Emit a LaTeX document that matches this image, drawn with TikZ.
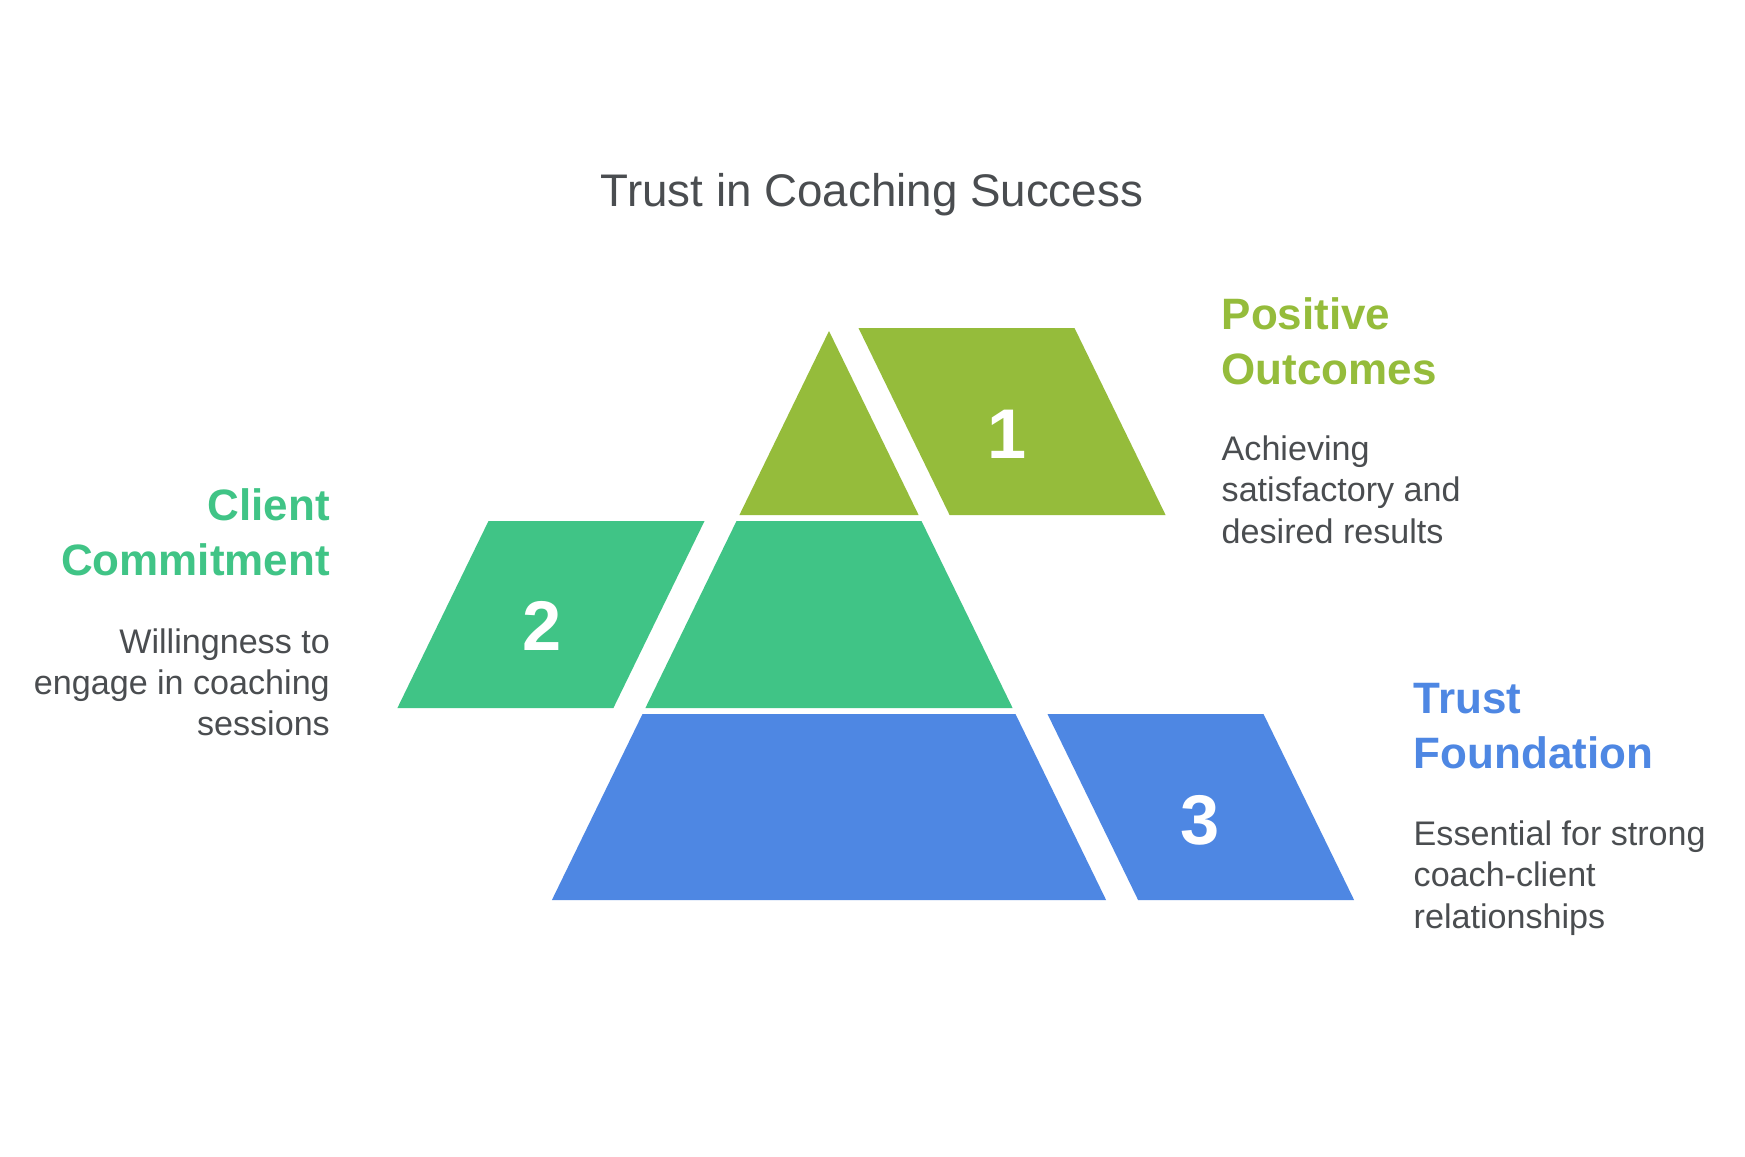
\documentclass[tikz,border=0pt]{standalone}
\usepackage{fontspec}
\setmainfont{Liberation Sans}
\usetikzlibrary{positioning}

\definecolor{limegreen}{HTML}{95BC3B}
\definecolor{mintgreen}{HTML}{40C486}
\definecolor{coolblue}{HTML}{4E87E3}
\definecolor{inkgray}{HTML}{4A4D50}

\begin{document}
\begin{tikzpicture}[
    x=0.01cm, y=-0.01cm,
    tier/.style={fill=#1, draw=none},
    numlabel/.style={text=white, font=\fontsize{20}{24}\selectfont\bfseries, inner sep=0pt},
    heading/.style={text=#1, font=\fontsize{12.5}{15.5}\selectfont\bfseries, inner sep=0pt},
    blurb/.style={text=inkgray, font=\fontsize{9.7}{11.7}\selectfont, inner sep=0pt}
]
    \useasboundingbox[fill=white] (0,0) rectangle (1745,1156);

    \node[text=inkgray, font=\fontsize{13}{16}\selectfont, anchor=base] (title) at (872,206) {Trust in Coaching Success};

    % pyramid tiers
    \fill[tier=limegreen] (829,331) -- (918.6,515) -- (739.4,515) -- cycle;
    \fill[tier=mintgreen] (736.5,521) -- (921.5,521) -- (1012.6,708) -- (645.4,708) -- cycle;
    \fill[tier=coolblue] (642.5,714) -- (1015.5,714) -- (1106.1,900) -- (551.9,900) -- cycle;

    % side tabs
    \fill[tier=limegreen] (858.5,328) -- (1074.5,328) -- (1165.6,515) -- (949.6,515) -- cycle;
    \fill[tier=mintgreen] (488.5,521) -- (704.5,521) -- (613.4,708) -- (397.4,708) -- cycle;
    \fill[tier=coolblue] (1047.5,714) -- (1263.5,714) -- (1354.1,900) -- (1138.1,900) -- cycle;

    \node[numlabel] (one) at (1007,434) {1};
    \node[numlabel] (two) at (542,626) {2};
    \node[numlabel] (three) at (1200,820) {3};

    % texts (base = last line)
    \node[heading=limegreen, align=left, anchor=base west] (outcomes) at (1221,384) {Positive\\Outcomes};
    \node[blurb, align=left, anchor=base west] (outcomesdesc) at (1221,543) {Achieving\\satisfactory and\\desired results};

    \node[heading=mintgreen, align=right, anchor=base east] (commitment) at (330.5,575.4) {Client\\Commitment};
    \node[blurb, align=right, anchor=base east] (commitmentdesc) at (330.5,735.6) {Willingness to\\engage in coaching\\sessions};

    \node[heading=coolblue, align=left, anchor=base west] (foundation) at (1413,768) {Trust\\Foundation};
    \node[blurb, align=left, anchor=base west] (foundationdesc) at (1413,928) {Essential for strong\\coach-client\\relationships};
\end{tikzpicture}
\end{document}
